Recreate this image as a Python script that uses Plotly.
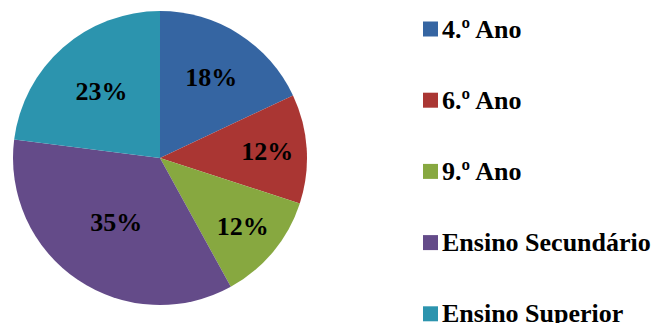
import plotly.graph_objects as go

categories = ["4.º Ano", "6.º Ano", "9.º Ano", "Ensino Secundário", "Ensino Superior"]
values = [18, 12, 12, 35, 23]
colors = ["#3565A2", "#AA3633", "#87A840", "#644B89", "#2C94AE"]

W, H = 658, 323
FONT = "Liberation Serif, Times New Roman, serif"

fig = go.Figure(go.Pie(
    labels=categories, values=values, sort=False, direction="clockwise", rotation=0,
    marker=dict(colors=colors, line=dict(width=0)),
    texttemplate="<b>%{percent:.0%}</b>", textposition="inside",
    insidetextorientation="horizontal",
    textfont=dict(family=FONT, size=26, color="black"),
    domain=dict(x=[13 / W, 307 / W], y=[(H - 305) / H, (H - 11) / H]),
    showlegend=False, hoverinfo="label+percent",
))

shapes, annotations = [], []
for i, (cat, col) in enumerate(zip(categories, colors)):
    yc = 29 + 71.2 * i
    shapes.append(dict(type="rect", xref="paper", yref="paper",
                       x0=423 / W, x1=438 / W, y0=(H - yc - 7.5) / H, y1=(H - yc + 7.5) / H,
                       fillcolor=col, line=dict(width=0)))
    annotations.append(dict(x=440 / W, y=(H - yc) / H, xref="paper", yref="paper",
                            xanchor="left", yanchor="middle", showarrow=False,
                            text=f"<b>{cat}</b>", font=dict(family=FONT, size=26, color="black")))

fig.update_layout(width=W, height=H, margin=dict(l=0, r=0, t=0, b=0),
                  paper_bgcolor="white", plot_bgcolor="white",
                  shapes=shapes, annotations=annotations)
fig.write_html("out.html")
